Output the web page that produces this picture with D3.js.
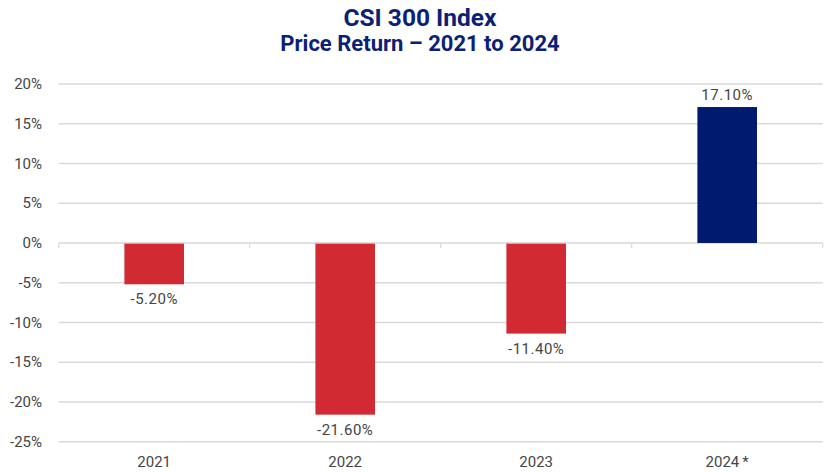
<!DOCTYPE html>
<html>
<head>
<meta charset="utf-8">
<script src="https://cdn.jsdelivr.net/npm/d3@7"></script>
<style>
  html, body { margin: 0; padding: 0; background: #fff; }
  svg { display: block; }
</style>
</head>
<body>
<svg id="chart" width="840" height="472"></svg>
<script>
const categories = ["2021", "2022", "2023", "2024*"];
const categoryLabels = ["2021", "2022", "2023", "2024\u2009*"];
const values = [-5.2, -21.6, -11.4, 17.1];
const valueLabels = ["-5.20%", "-21.60%", "-11.40%", "17.10%"];
const yTicks = [20, 15, 10, 5, 0, -5, -10, -15, -20, -25];
const titleLines = ["CSI 300 Index", "Price Return \u2013 2021 to 2024"];

(function () {
const W = 840, H = 472;
const plotLeft = 58.7, plotRight = 822.7, plotTop = 84, plotBottom = 441.7;
const svg = d3.select("#chart");

const y = d3.scaleLinear().domain([-25, 20]).range([plotBottom, plotTop]);
const x = d3.scaleBand().domain(categories).range([plotLeft, plotRight])
  .paddingInner(0.688).paddingOuter(0.344);

const navy = "#0b2175";
const red = "#d12a33";
const barNavy = "#001a70";
const textGray = "#454545";
const gridColor = "#d9d9d9";

// Title
svg.append("g").selectAll("text").data(titleLines).join("text")
  .attr("x", W / 2)
  .attr("y", (d, i) => i === 0 ? 26 : 51)
  .attr("text-anchor", "middle")
  .attr("font-family", "Roboto, sans-serif")
  .attr("font-weight", 700)
  .attr("font-size", (d, i) => i === 0 ? 24.5 : 22)
  .attr("fill", navy)
  .text(d => d);

// Gridlines
svg.append("g").selectAll("line").data(yTicks).join("line")
  .attr("x1", plotLeft).attr("x2", plotRight)
  .attr("y1", d => y(d)).attr("y2", d => y(d))
  .attr("stroke", gridColor).attr("stroke-width", 1.5);

// Y labels
svg.append("g").selectAll("text").data(yTicks).join("text")
  .attr("x", 42)
  .attr("y", d => y(d))
  .attr("dy", "0.35em")
  .attr("text-anchor", "end")
  .attr("font-family", "Roboto, sans-serif")
  .attr("font-size", 15)
  .attr("fill", textGray)
  .text(d => d + "%");

// Category boundary ticks on zero line
const bounds = d3.range(categories.length + 1).map(i => x.range()[0] + i * x.step());
svg.append("g").selectAll("line").data(bounds).join("line")
  .attr("x1", d => d).attr("x2", d => d)
  .attr("y1", y(0)).attr("y2", y(0) + 5)
  .attr("stroke", gridColor).attr("stroke-width", 1.2);

// Bars
svg.append("g").selectAll("rect").data(values).join("rect")
  .attr("x", (d, i) => x(categories[i]))
  .attr("width", x.bandwidth())
  .attr("y", d => y(Math.max(0, d)))
  .attr("height", d => Math.abs(y(d) - y(0)))
  .attr("fill", d => d < 0 ? red : barNavy);

// light top edge on negative bars (zero line blending)
const negIdx = values.map((v, i) => v < 0 ? i : -1).filter(i => i >= 0);
svg.append("g").selectAll("line").data(negIdx).join("line")
  .attr("x1", i => x(categories[i])).attr("x2", i => x(categories[i]) + x.bandwidth())
  .attr("y1", y(0) + 0.5).attr("y2", y(0) + 0.5)
  .attr("stroke", "#e8a0a4").attr("stroke-width", 1);

// Value labels
svg.append("g").selectAll("text").data(values).join("text")
  .attr("x", (d, i) => x(categories[i]) + x.bandwidth() / 2)
  .attr("y", d => d < 0 ? y(d) + 20 : y(d) - 7)
  .attr("text-anchor", "middle")
  .attr("font-family", "Roboto, sans-serif")
  .attr("font-size", 15)
  .attr("letter-spacing", 0.5)
  .attr("fill", textGray)
  .text((d, i) => valueLabels[i]);

// X labels
svg.append("g").selectAll("text").data(categories).join("text")
  .attr("x", d => x(d) + x.bandwidth() / 2)
  .attr("y", 467)
  .attr("text-anchor", "middle")
  .attr("font-family", "Roboto, sans-serif")
  .attr("font-size", 15)
  .attr("fill", textGray)
  .text((d, i) => categoryLabels[i]);
})();
</script>
</body>
</html>
